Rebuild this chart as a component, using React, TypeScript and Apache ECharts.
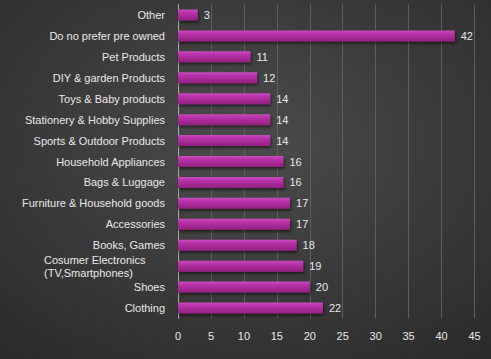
import React, { useEffect, useRef } from "react";
import * as echarts from "echarts";

const categories = [
  "Other",
  "Do no prefer pre owned",
  "Pet Products",
  "DIY & garden Products",
  "Toys & Baby products",
  "Stationery & Hobby Supplies",
  "Sports & Outdoor Products",
  "Household Appliances",
  "Bags & Luggage",
  "Furniture & Household goods",
  "Accessories",
  "Books, Games",
  "Cosumer Electronics\n(TV,Smartphones)",
  "Shoes",
  "Clothing",
];
const values = [3, 42, 11, 12, 14, 14, 14, 16, 16, 17, 17, 18, 19, 20, 22];
const xTicks = [0, 5, 10, 15, 20, 25, 30, 35, 40, 45];

const FONT = "'Liberation Sans', Arial, sans-serif";

export default function App() {
  const ref = useRef<HTMLDivElement>(null);
  useEffect(() => {
    if (!ref.current) return;
    const chart = echarts.init(ref.current, null, { renderer: "svg" });
    const catsRev = [...categories].reverse();
    const valsRev = [...values].reverse();
    chart.setOption({
      animation: false,
      backgroundColor: {
        type: "radial",
        x: 0.5,
        y: 0.4,
        r: 0.75,
        colorStops: [
          { offset: 0, color: "#4c4c4c" },
          { offset: 1, color: "#2b2b2b" },
        ],
      },
      grid: { left: 178, right: 16.5, top: 4.5, bottom: 40.5, containLabel: false },
      xAxis: {
        type: "value",
        min: xTicks[0],
        max: xTicks[xTicks.length - 1],
        interval: 5,
        axisLine: { show: false },
        axisTick: { show: false },
        splitLine: { show: true, lineStyle: { color: "#5e5e5e", width: 1 } },
        axisLabel: {
          color: "#e8e8e8",
          fontSize: 11,
          fontFamily: FONT,
          margin: 12,
        },
      },
      yAxis: {
        type: "category",
        data: catsRev,
        axisLine: { show: true, lineStyle: { color: "#a8a8a8", width: 1 } },
        axisTick: { show: false },
        axisLabel: {
          color: "#e8e8e8",
          fontSize: 11,
          fontFamily: FONT,
          margin: 13,
          formatter: (v: string) => {
            if (v.indexOf("\n") >= 0) {
              return v
                .split("\n")
                .map((s) => "{l|" + s + "}")
                .join("\n");
            }
            return v;
          },
          rich: {
            l: {
              width: 121,
              align: "left",
              color: "#e8e8e8",
              fontSize: 11,
              fontFamily: FONT,
              lineHeight: 13,
            },
          },
        },
      },
      series: [
        {
          type: "bar",
          data: valsRev,
          barWidth: 11,
          itemStyle: {
            color: {
              type: "linear",
              x: 0,
              y: 0,
              x2: 0,
              y2: 1,
              colorStops: [
                { offset: 0, color: "#c94cbc" },
                { offset: 0.3, color: "#b832aa" },
                { offset: 1, color: "#92207f" },
              ],
            },
            shadowColor: "rgba(0,0,0,0.55)",
            shadowBlur: 3,
            shadowOffsetY: 2,
            shadowOffsetX: 1,
          },
          label: {
            show: true,
            position: "right",
            distance: 6,
            color: "#e8e8e8",
            fontSize: 11,
            fontFamily: FONT,
          },
        },
      ],
    });
    return () => chart.dispose();
  }, []);
  return <div ref={ref} style={{ width: 491, height: 359, position: "absolute", left: 0, top: 0 }} />;
}
